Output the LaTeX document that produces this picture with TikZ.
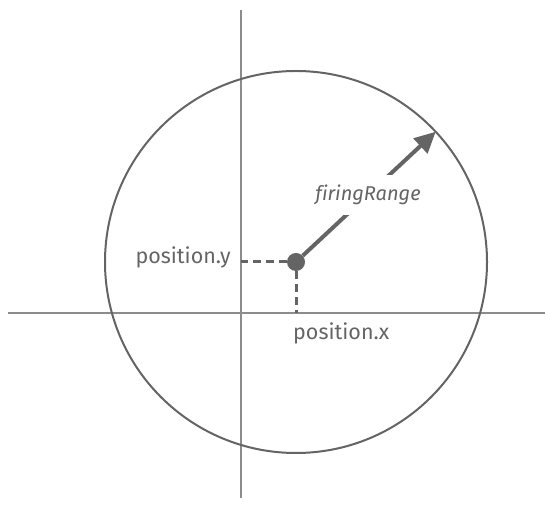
\documentclass[tikz,border=0pt]{standalone}
\usepackage{fontspec}
\setmainfont{Fira Sans}[Ligatures=NoCommon]
\usetikzlibrary{arrows.meta, calc}
\definecolor{inkgrey}{HTML}{646464}
\definecolor{axisgrey}{HTML}{8C8C8C}

\begin{document}
\begin{tikzpicture}[x=1pt, y=1pt, >={Triangle[length=21pt, width=20pt]}, every node/.style={font=\fontsize{21.5}{24}\selectfont, text=inkgrey, inner sep=0pt}]
  \useasboundingbox (0,0) rectangle (545,508);
  % axes
  \coordinate (xleft) at (8,195);
  \coordinate (xright) at (545,195);
  \coordinate (ytop) at (241,498);
  \coordinate (ybottom) at (241,10);
  \draw[axisgrey, line width=1.4pt] (xleft) -- (xright);
  \draw[axisgrey, line width=1.4pt] (ytop) -- (ybottom);
  % range circle and position
  \node[circle, fill=inkgrey, minimum size=18pt] (pos) at (296,246) {};
  \draw[inkgrey, line width=2pt] (pos.center) circle[radius=191pt];
  \coordinate (tip) at ($(pos.center)+(43:191)$);
  \draw[inkgrey, line width=3pt, dash pattern=on 8pt off 5pt] (pos) -- (pos -| ytop);
  \draw[inkgrey, line width=3pt, dash pattern=on 8pt off 5pt] (pos) -- (pos |- xleft);
  \draw[->, inkgrey, line width=4pt] (pos) -- (tip);
  \node[fill=white, inner xsep=2pt, inner ysep=10pt, font=\fontsize{20}{22}\selectfont\itshape] (range) at (368,313) {firingRange};
  \node[anchor=east] (ylabel) at (231,251) {position.y};
  \node[anchor=west] (xlabel) at (293,175) {position.x};
\end{tikzpicture}
\end{document}
